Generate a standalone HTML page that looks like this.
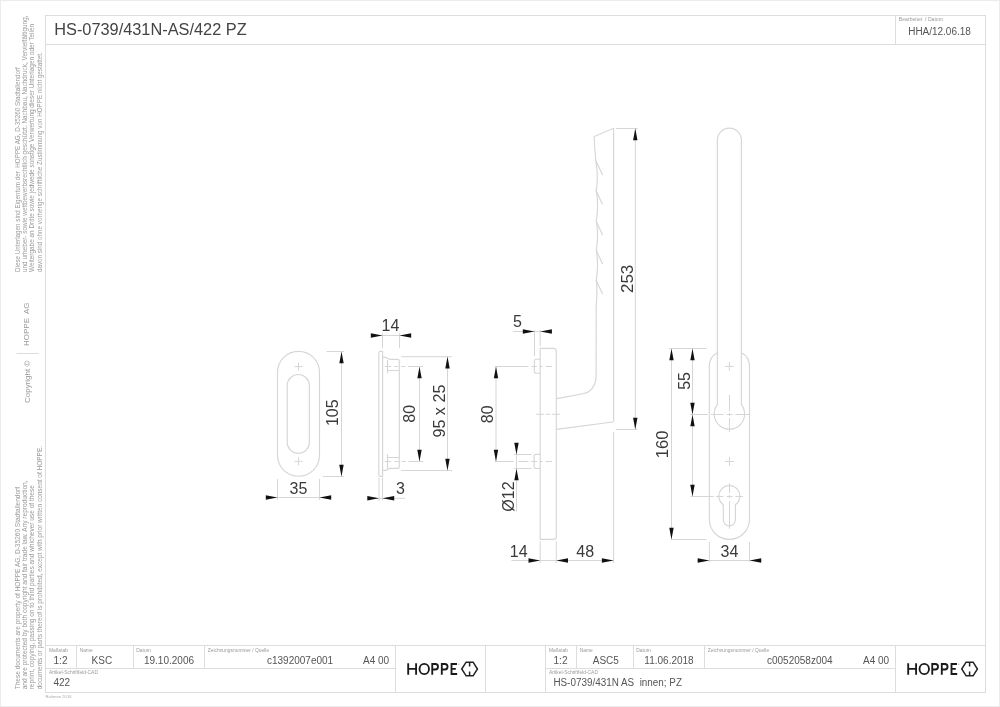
<!DOCTYPE html>
<html><head><meta charset="utf-8"><style>
html,body{margin:0;padding:0;background:#fff;width:1000px;height:707px;overflow:hidden}
svg{display:block;font-family:"Liberation Sans",sans-serif;will-change:transform}
</style></head><body>
<svg width="1000" height="707" viewBox="0 0 1000 707"><rect x="0.5" y="0.5" width="999" height="706" fill="none" stroke="#ececec"/>
<rect x="45.5" y="15.5" width="940" height="677" fill="none" stroke="#dddddd"/>
<line x1="45.5" y1="44.5" x2="985.5" y2="44.5" stroke="#dddddd" stroke-width="1"/>
<line x1="895.5" y1="15.5" x2="895.5" y2="44.5" stroke="#dddddd" stroke-width="1"/>
<text style="white-space:pre" x="54.2" y="34.7" font-size="16.3" text-anchor="start" fill="#444" font-weight="normal" font-family="Liberation Sans" textLength="192.5" lengthAdjust="spacingAndGlyphs">HS-0739/431N-AS/422 PZ</text>
<text style="white-space:pre" x="898.8" y="20.6" font-size="4.9" text-anchor="start" fill="#999" font-weight="normal" font-family="Liberation Sans" textLength="44.2" lengthAdjust="spacingAndGlyphs">Bearbeitet  / Datum</text>
<text style="white-space:pre" x="908.2" y="35.2" font-size="10.0" text-anchor="start" fill="#555" font-weight="normal" font-family="Liberation Sans" textLength="62.6" lengthAdjust="spacingAndGlyphs">HHA/12.06.18</text>
<line x1="45.5" y1="645.5" x2="985.5" y2="645.5" stroke="#dddddd" stroke-width="1"/>
<line x1="45.5" y1="668.5" x2="395.5" y2="668.5" stroke="#dddddd" stroke-width="1"/>
<line x1="545.5" y1="668.5" x2="895.5" y2="668.5" stroke="#dddddd" stroke-width="1"/>
<line x1="395.5" y1="645.5" x2="395.5" y2="692.5" stroke="#dddddd" stroke-width="1"/>
<line x1="485.5" y1="645.5" x2="485.5" y2="692.5" stroke="#dddddd" stroke-width="1"/>
<line x1="545.5" y1="645.5" x2="545.5" y2="692.5" stroke="#dddddd" stroke-width="1"/>
<line x1="895.5" y1="645.5" x2="895.5" y2="692.5" stroke="#dddddd" stroke-width="1"/>
<line x1="76.5" y1="645.5" x2="76.5" y2="668.5" stroke="#dddddd" stroke-width="1"/>
<line x1="133.5" y1="645.5" x2="133.5" y2="668.5" stroke="#dddddd" stroke-width="1"/>
<line x1="204.5" y1="645.5" x2="204.5" y2="668.5" stroke="#dddddd" stroke-width="1"/>
<line x1="576.5" y1="645.5" x2="576.5" y2="668.5" stroke="#dddddd" stroke-width="1"/>
<line x1="633.5" y1="645.5" x2="633.5" y2="668.5" stroke="#dddddd" stroke-width="1"/>
<line x1="704.5" y1="645.5" x2="704.5" y2="668.5" stroke="#dddddd" stroke-width="1"/>
<text style="white-space:pre" x="45.5" y="698.3" font-size="4.4" text-anchor="start" fill="#aaa" font-weight="normal" font-family="Liberation Sans" textLength="26" lengthAdjust="spacingAndGlyphs">Rahmen 2016</text>
<text style="white-space:pre" x="49" y="652.1" font-size="4.9" text-anchor="start" fill="#999" font-weight="normal" font-family="Liberation Sans">Maßstab</text>
<text style="white-space:pre" x="79.7" y="652.1" font-size="4.9" text-anchor="start" fill="#999" font-weight="normal" font-family="Liberation Sans">Name</text>
<text style="white-space:pre" x="136.3" y="652.1" font-size="4.9" text-anchor="start" fill="#999" font-weight="normal" font-family="Liberation Sans">Datum</text>
<text style="white-space:pre" x="207.7" y="652.1" font-size="4.9" text-anchor="start" fill="#999" font-weight="normal" font-family="Liberation Sans">Zeichnungsnummer / Quelle</text>
<text style="white-space:pre" x="49" y="674.1" font-size="4.9" text-anchor="start" fill="#999" font-weight="normal" font-family="Liberation Sans">Artikel-Schriftfeld-CAD</text>
<text style="white-space:pre" x="60.5" y="664.2" font-size="10" text-anchor="middle" fill="#555" font-weight="normal" font-family="Liberation Sans">1:2</text>
<text style="white-space:pre" x="101.9" y="664.2" font-size="10" text-anchor="middle" fill="#555" font-weight="normal" font-family="Liberation Sans">KSC</text>
<text style="white-space:pre" x="169" y="664.2" font-size="10" text-anchor="middle" fill="#555" font-weight="normal" font-family="Liberation Sans">19.10.2006</text>
<text style="white-space:pre" x="267" y="664.2" font-size="10" text-anchor="start" fill="#555" font-weight="normal" font-family="Liberation Sans">c1392007e001</text>
<text style="white-space:pre" x="363" y="664.2" font-size="10" text-anchor="start" fill="#555" font-weight="normal" font-family="Liberation Sans">A4 00</text>
<text style="white-space:pre" x="53.4" y="686.4" font-size="10" text-anchor="start" fill="#555" font-weight="normal" font-family="Liberation Sans">422</text>
<text style="white-space:pre" x="549" y="652.1" font-size="4.9" text-anchor="start" fill="#999" font-weight="normal" font-family="Liberation Sans">Maßstab</text>
<text style="white-space:pre" x="579.7" y="652.1" font-size="4.9" text-anchor="start" fill="#999" font-weight="normal" font-family="Liberation Sans">Name</text>
<text style="white-space:pre" x="636.3" y="652.1" font-size="4.9" text-anchor="start" fill="#999" font-weight="normal" font-family="Liberation Sans">Datum</text>
<text style="white-space:pre" x="707.7" y="652.1" font-size="4.9" text-anchor="start" fill="#999" font-weight="normal" font-family="Liberation Sans">Zeichnungsnummer / Quelle</text>
<text style="white-space:pre" x="549" y="674.1" font-size="4.9" text-anchor="start" fill="#999" font-weight="normal" font-family="Liberation Sans">Artikel-Schriftfeld-CAD</text>
<text style="white-space:pre" x="560.5" y="664.2" font-size="10" text-anchor="middle" fill="#555" font-weight="normal" font-family="Liberation Sans">1:2</text>
<text style="white-space:pre" x="605.8" y="664.2" font-size="10" text-anchor="middle" fill="#555" font-weight="normal" font-family="Liberation Sans">ASC5</text>
<text style="white-space:pre" x="669" y="664.2" font-size="10" text-anchor="middle" fill="#555" font-weight="normal" font-family="Liberation Sans">11.06.2018</text>
<text style="white-space:pre" x="767" y="664.2" font-size="10" text-anchor="start" fill="#555" font-weight="normal" font-family="Liberation Sans">c0052058z004</text>
<text style="white-space:pre" x="863" y="664.2" font-size="10" text-anchor="start" fill="#555" font-weight="normal" font-family="Liberation Sans">A4 00</text>
<text style="white-space:pre" x="553.4" y="686.4" font-size="10" text-anchor="start" fill="#555" font-weight="normal" font-family="Liberation Sans" textLength="128.6" lengthAdjust="spacingAndGlyphs">HS-0739/431N AS  innen; PZ</text>
<path d="M408.2,663.2 V674.8 M416.1,663.2 V674.8 M408.2,668.8 H416.1 M432.25,674.8 V664.0 H435.3 C437.5,664.0 438.0,665.3 438.0,666.75 C438.0,668.2 437.5,669.5 435.3,669.5 H432.25 M441.8,674.8 V664.0 H444.85 C447.05,664.0 447.55,665.3 447.55,666.75 C447.55,668.2 447.05,669.5 444.85,669.5 H441.8 M457.0,664.0 H451.5 V674.0 H457.2 M451.5,668.8 H455.8" stroke="#1a1a1a" stroke-width="1.85" fill="none"/>
<ellipse cx="424.25" cy="668.95" rx="4.75" ry="5.15" stroke="#1a1a1a" stroke-width="1.85" fill="none"/>
<circle cx="458.8" cy="664.2" r="0.8" fill="#bbb"/>
<path d="M461.75,669 L466.1,662.15 L473.1,662.15 L477.45,669 L473.1,675.85 L466.1,675.85 Z M469.6,662.15 V666.4 M469.6,671.4 V675.85" stroke="#222" stroke-width="1.5" fill="none"/>
<path d="M908.2,663.2 V674.8 M916.1,663.2 V674.8 M908.2,668.8 H916.1 M932.25,674.8 V664.0 H935.3 C937.5,664.0 938.0,665.3 938.0,666.75 C938.0,668.2 937.5,669.5 935.3,669.5 H932.25 M941.8,674.8 V664.0 H944.85 C947.05,664.0 947.55,665.3 947.55,666.75 C947.55,668.2 947.05,669.5 944.85,669.5 H941.8 M957.0,664.0 H951.5 V674.0 H957.2 M951.5,668.8 H955.8" stroke="#1a1a1a" stroke-width="1.85" fill="none"/>
<ellipse cx="924.25" cy="668.95" rx="4.75" ry="5.15" stroke="#1a1a1a" stroke-width="1.85" fill="none"/>
<circle cx="958.8" cy="664.2" r="0.8" fill="#bbb"/>
<path d="M961.75,669 L966.1,662.15 L973.1,662.15 L977.45,669 L973.1,675.85 L966.1,675.85 Z M969.6,662.15 V666.4 M969.6,671.4 V675.85" stroke="#222" stroke-width="1.5" fill="none"/>
<text style="white-space:pre" transform="translate(19.6,272) rotate(-90)" font-size="7.2" text-anchor="start" fill="#999" font-weight="normal" font-family="Liberation Sans" textLength="204.8" lengthAdjust="spacingAndGlyphs">Diese Unterlagen sind Eigentum der  HOPPE AG, D-35260 Stadtallendorf</text>
<text style="white-space:pre" transform="translate(26.900000000000002,272) rotate(-90)" font-size="7.2" text-anchor="start" fill="#999" font-weight="normal" font-family="Liberation Sans" textLength="256.5" lengthAdjust="spacingAndGlyphs">und urheber- sowie wettbewerbsrechtlich geschützt. Nachbau, Nachdruck, Vervielfältigung,</text>
<text style="white-space:pre" transform="translate(34.2,272) rotate(-90)" font-size="7.2" text-anchor="start" fill="#999" font-weight="normal" font-family="Liberation Sans" textLength="248.1" lengthAdjust="spacingAndGlyphs">Weitergabe an Dritte sowie jedwede sonstige Verwertung dieser Unterlagen oder Teilen</text>
<text style="white-space:pre" transform="translate(41.5,272) rotate(-90)" font-size="7.2" text-anchor="start" fill="#999" font-weight="normal" font-family="Liberation Sans" textLength="219.7" lengthAdjust="spacingAndGlyphs">davon sind ohne vorherige schriftliche Zustimmung von HOPPE nicht gestattet.</text>
<text style="white-space:pre" transform="translate(19.6,689.3) rotate(-90)" font-size="7.2" text-anchor="start" fill="#999" font-weight="normal" font-family="Liberation Sans" textLength="202.4" lengthAdjust="spacingAndGlyphs">These documents are property of HOPPE AG, D-35260 Stadtallendorf</text>
<text style="white-space:pre" transform="translate(26.900000000000002,689.3) rotate(-90)" font-size="7.2" text-anchor="start" fill="#999" font-weight="normal" font-family="Liberation Sans" textLength="208.8" lengthAdjust="spacingAndGlyphs">and are protected by both copyright and fair trade law. Any reproduction,</text>
<text style="white-space:pre" transform="translate(34.2,689.3) rotate(-90)" font-size="7.2" text-anchor="start" fill="#999" font-weight="normal" font-family="Liberation Sans" textLength="204.2" lengthAdjust="spacingAndGlyphs">reprint, copying, passing on to third parties and whichever use of these</text>
<text style="white-space:pre" transform="translate(41.5,689.3) rotate(-90)" font-size="7.2" text-anchor="start" fill="#999" font-weight="normal" font-family="Liberation Sans" textLength="243.3" lengthAdjust="spacingAndGlyphs">documents or parts thereof is prohibited, except with prior written consent of HOPPE.</text>
<text style="white-space:pre" transform="translate(29.4,346) rotate(-90)" font-size="8" text-anchor="start" fill="#999" font-weight="normal" font-family="Liberation Sans">HOPPE  AG</text>
<text style="white-space:pre" transform="translate(30,403) rotate(-90)" font-size="8" text-anchor="start" fill="#999" font-weight="normal" font-family="Liberation Sans">Copyright ©</text>
<line x1="16.5" y1="353.5" x2="38.5" y2="353.5" stroke="#ddd" stroke-width="1"/>
<path d="M277.5,372.3 A21,21 0 0 1 319.5,372.3 V455.2 A21,21 0 0 1 277.5,455.2 Z" stroke="#d6d6d6" stroke-width="1.15" fill="none"/>
<path d="M287.2,385.6 A11.1,11.1 0 0 1 309.4,385.6 V442.2 A11.1,11.1 0 0 1 287.2,442.2 Z" stroke="#d6d6d6" stroke-width="1.15" fill="none"/>
<line x1="294.5" y1="366.6" x2="302.5" y2="366.6" stroke="#d6d6d6" stroke-width="1"/>
<line x1="298.5" y1="362.6" x2="298.5" y2="370.6" stroke="#d6d6d6" stroke-width="1"/>
<line x1="294.5" y1="461.3" x2="302.5" y2="461.3" stroke="#d6d6d6" stroke-width="1"/>
<line x1="298.5" y1="457.3" x2="298.5" y2="465.3" stroke="#d6d6d6" stroke-width="1"/>
<line x1="326.7" y1="351.5" x2="343.8" y2="351.5" stroke="#d6d6d6" stroke-width="1"/>
<line x1="323" y1="476.5" x2="343.8" y2="476.5" stroke="#d6d6d6" stroke-width="1"/>
<line x1="341.5" y1="351.5" x2="341.5" y2="476.5" stroke="#d6d6d6" stroke-width="1"/>
<polygon points="341.50,351.50 339.30,363.20 343.70,363.20" fill="#111"/>
<polygon points="341.50,476.50 339.30,464.80 343.70,464.80" fill="#111"/>
<text style="white-space:pre" transform="translate(337.8,412.7) rotate(-90)" font-size="16" text-anchor="middle" fill="#3a3a3a" font-weight="normal" font-family="Liberation Sans">105</text>
<line x1="277.5" y1="479" x2="277.5" y2="500" stroke="#d6d6d6" stroke-width="1"/>
<line x1="319.5" y1="479" x2="319.5" y2="500" stroke="#d6d6d6" stroke-width="1"/>
<line x1="265.7" y1="497.5" x2="331.2" y2="497.5" stroke="#d6d6d6" stroke-width="1"/>
<polygon points="277.50,497.50 265.80,495.30 265.80,499.70" fill="#111"/>
<polygon points="319.50,497.50 331.20,495.30 331.20,499.70" fill="#111"/>
<text style="white-space:pre" x="298.5" y="493.5" font-size="16" text-anchor="middle" fill="#3a3a3a" font-weight="normal" font-family="Liberation Sans">35</text>
<path d="M380.4,476.3 Q378.8,476.3 378.8,474.7 V352.9 Q378.8,351.3 380.4,351.3 H382.6 V476.3 Z" stroke="#d6d6d6" stroke-width="1.15" fill="none"/>
<path d="M382.6,357.4 H385 C387.3,357.4 388,359.4 390.3,359.4 H397.7 Q399.3,359.4 399.3,361 V466.8 Q399.3,468.4 397.7,468.4 H390.3 C388,468.4 387.3,470.4 385,470.4 H382.6" stroke="#d6d6d6" stroke-width="1.15" fill="none"/>
<path d="M387.5,359.9 V373.2 M387.5,370.5 H399.3" stroke="#d6d6d6" stroke-width="1.15" fill="none"/>
<path d="M387.5,454.2 V468.4 M387.5,457.5 H399.3" stroke="#d6d6d6" stroke-width="1.15" fill="none"/>
<line x1="384.9" y1="366.5" x2="391" y2="366.5" stroke="#d6d6d6" stroke-width="1"/>
<line x1="394.3" y1="366.5" x2="397.9" y2="366.5" stroke="#d6d6d6" stroke-width="1"/>
<line x1="401.2" y1="366.5" x2="405" y2="366.5" stroke="#d6d6d6" stroke-width="1"/>
<line x1="408" y1="366.5" x2="423" y2="366.5" stroke="#d6d6d6" stroke-width="1"/>
<line x1="384.9" y1="461.5" x2="391.2" y2="461.5" stroke="#d6d6d6" stroke-width="1"/>
<line x1="394.3" y1="461.5" x2="398.7" y2="461.5" stroke="#d6d6d6" stroke-width="1"/>
<line x1="401.7" y1="461.5" x2="405.7" y2="461.5" stroke="#d6d6d6" stroke-width="1"/>
<line x1="408.5" y1="461.5" x2="423" y2="461.5" stroke="#d6d6d6" stroke-width="1"/>
<line x1="382.5" y1="333" x2="382.5" y2="348" stroke="#d6d6d6" stroke-width="1"/>
<line x1="399.5" y1="333" x2="399.5" y2="348" stroke="#d6d6d6" stroke-width="1"/>
<line x1="371.2" y1="335.5" x2="410.9" y2="335.5" stroke="#d6d6d6" stroke-width="1"/>
<polygon points="382.50,335.50 370.80,333.30 370.80,337.70" fill="#111"/>
<polygon points="399.50,335.50 411.20,333.30 411.20,337.70" fill="#111"/>
<text style="white-space:pre" x="390.5" y="331.2" font-size="16" text-anchor="middle" fill="#3a3a3a" font-weight="normal" font-family="Liberation Sans">14</text>
<line x1="419.5" y1="366.5" x2="419.5" y2="461.5" stroke="#d6d6d6" stroke-width="1"/>
<polygon points="419.50,366.50 417.30,378.20 421.70,378.20" fill="#111"/>
<polygon points="419.50,461.50 417.30,449.80 421.70,449.80" fill="#111"/>
<text style="white-space:pre" transform="translate(415.2,413.8) rotate(-90)" font-size="16" text-anchor="middle" fill="#3a3a3a" font-weight="normal" font-family="Liberation Sans">80</text>
<line x1="401.2" y1="356.7" x2="451.6" y2="356.7" stroke="#d6d6d6" stroke-width="1"/>
<line x1="401.2" y1="470.5" x2="452" y2="470.5" stroke="#d6d6d6" stroke-width="1"/>
<line x1="447.5" y1="356.7" x2="447.5" y2="470.5" stroke="#d6d6d6" stroke-width="1"/>
<polygon points="447.50,356.70 445.30,368.40 449.70,368.40" fill="#111"/>
<polygon points="447.50,470.50 445.30,458.80 449.70,458.80" fill="#111"/>
<text style="white-space:pre" transform="translate(444.5,411.1) rotate(-90)" font-size="16" text-anchor="middle" fill="#3a3a3a" font-weight="normal" font-family="Liberation Sans" textLength="53" lengthAdjust="spacingAndGlyphs">95 x 25</text>
<line x1="379" y1="477.7" x2="379" y2="500.6" stroke="#d6d6d6" stroke-width="1"/>
<line x1="382.5" y1="477.7" x2="382.5" y2="500.6" stroke="#d6d6d6" stroke-width="1"/>
<line x1="367" y1="498.3" x2="405" y2="498.3" stroke="#d6d6d6" stroke-width="1"/>
<polygon points="379.00,498.30 367.30,496.10 367.30,500.50" fill="#111"/>
<polygon points="382.50,498.30 394.20,496.10 394.20,500.50" fill="#111"/>
<text style="white-space:pre" x="400.5" y="494.2" font-size="16" text-anchor="middle" fill="#3a3a3a" font-weight="normal" font-family="Liberation Sans">3</text>
<path d="M613.6,421 V128.3 L594.1,136.5 Q594.8,150 595.8,161 Q598.5,175 596.3,190.6 Q598.8,205 596.3,221 Q598.8,235 596.3,250 Q598.8,265 596.3,280 Q597.6,292 596.2,305 L596.1,376 C596.1,386 590,392.4 584,393.5 L557,398.6" stroke="#d6d6d6" stroke-width="1.15" fill="none"/>
<path d="M596.0,161 L602.6,175" stroke="#d6d6d6" stroke-width="1.15" fill="none"/>
<path d="M596.0,190.6 L602.6,204.6" stroke="#d6d6d6" stroke-width="1.15" fill="none"/>
<path d="M596.0,221 L602.6,235" stroke="#d6d6d6" stroke-width="1.15" fill="none"/>
<path d="M596.0,250 L602.6,264" stroke="#d6d6d6" stroke-width="1.15" fill="none"/>
<path d="M596.0,280 L602.6,294" stroke="#d6d6d6" stroke-width="1.15" fill="none"/>
<path d="M613.6,421 L612.5,422 L556.5,429.4" stroke="#d6d6d6" stroke-width="1.15" fill="none"/>
<path d="M540.2,348.3 H553.3 Q556.3,348.3 556.3,351.3 V536.4 Q556.3,539.4 553.3,539.4 H540.2 Z" stroke="#d6d6d6" stroke-width="1.15" fill="none"/>
<path d="M540,359.2 H536.3 Q534.3,359.2 534.3,361.2 V371.2 Q534.3,373.2 536.3,373.2 H540" stroke="#d6d6d6" stroke-width="1.15" fill="none"/>
<path d="M540.2,454.3 H536.1 Q534.1,454.3 534.1,456.3 V466.5 Q534.1,468.5 536.1,468.5 H540.2" stroke="#d6d6d6" stroke-width="1.15" fill="none"/>
<line x1="531.2" y1="366.5" x2="536.8" y2="366.5" stroke="#d6d6d6" stroke-width="1"/>
<line x1="539.2" y1="366.5" x2="542.8" y2="366.5" stroke="#d6d6d6" stroke-width="1"/>
<line x1="545.6" y1="366.5" x2="552" y2="366.5" stroke="#d6d6d6" stroke-width="1"/>
<line x1="536" y1="414.3" x2="544" y2="414.3" stroke="#d6d6d6" stroke-width="1"/>
<line x1="545.6" y1="414.3" x2="550.4" y2="414.3" stroke="#d6d6d6" stroke-width="1"/>
<line x1="552" y1="414.3" x2="560" y2="414.3" stroke="#d6d6d6" stroke-width="1"/>
<line x1="518.4" y1="461.5" x2="528.4" y2="461.5" stroke="#d6d6d6" stroke-width="1"/>
<line x1="531.2" y1="461.5" x2="537.2" y2="461.5" stroke="#d6d6d6" stroke-width="1"/>
<line x1="539.6" y1="461.5" x2="542.8" y2="461.5" stroke="#d6d6d6" stroke-width="1"/>
<line x1="545.6" y1="461.5" x2="552" y2="461.5" stroke="#d6d6d6" stroke-width="1"/>
<line x1="534.5" y1="330" x2="534.5" y2="356" stroke="#d6d6d6" stroke-width="1"/>
<line x1="540.2" y1="330" x2="540.2" y2="346" stroke="#d6d6d6" stroke-width="1"/>
<line x1="512.9" y1="331.5" x2="552.1" y2="331.5" stroke="#d6d6d6" stroke-width="1"/>
<polygon points="534.50,331.50 522.80,329.30 522.80,333.70" fill="#111"/>
<polygon points="540.20,331.50 551.90,329.30 551.90,333.70" fill="#111"/>
<text style="white-space:pre" x="517.4" y="327.4" font-size="16" text-anchor="middle" fill="#3a3a3a" font-weight="normal" font-family="Liberation Sans">5</text>
<line x1="494.8" y1="366.5" x2="528.4" y2="366.5" stroke="#d6d6d6" stroke-width="1"/>
<line x1="494.8" y1="461.5" x2="513.6" y2="461.5" stroke="#d6d6d6" stroke-width="1"/>
<line x1="496" y1="366.5" x2="496" y2="461.5" stroke="#d6d6d6" stroke-width="1"/>
<polygon points="496.00,366.50 493.80,378.20 498.20,378.20" fill="#111"/>
<polygon points="496.00,461.50 493.80,449.80 498.20,449.80" fill="#111"/>
<text style="white-space:pre" transform="translate(492.7,414.3) rotate(-90)" font-size="16" text-anchor="middle" fill="#3a3a3a" font-weight="normal" font-family="Liberation Sans">80</text>
<line x1="514" y1="454.5" x2="531.6" y2="454.5" stroke="#d6d6d6" stroke-width="1"/>
<line x1="514" y1="468.5" x2="531.6" y2="468.5" stroke="#d6d6d6" stroke-width="1"/>
<line x1="516.5" y1="443" x2="516.5" y2="511.6" stroke="#d6d6d6" stroke-width="1"/>
<polygon points="516.50,454.50 514.30,442.80 518.70,442.80" fill="#111"/>
<polygon points="516.50,468.50 514.30,480.20 518.70,480.20" fill="#111"/>
<text style="white-space:pre" transform="translate(514,496.5) rotate(-90)" font-size="16" text-anchor="middle" fill="#3a3a3a" font-weight="normal" font-family="Liberation Sans">Ø12</text>
<line x1="616.2" y1="128.5" x2="637.7" y2="128.5" stroke="#d6d6d6" stroke-width="1"/>
<line x1="615.8" y1="429.5" x2="637.5" y2="429.5" stroke="#d6d6d6" stroke-width="1"/>
<line x1="635.3" y1="128.5" x2="635.3" y2="429.5" stroke="#d6d6d6" stroke-width="1"/>
<polygon points="635.30,128.50 633.10,140.20 637.50,140.20" fill="#111"/>
<polygon points="635.30,429.50 633.10,417.80 637.50,417.80" fill="#111"/>
<text style="white-space:pre" transform="translate(633,278.9) rotate(-90)" font-size="16" text-anchor="middle" fill="#3a3a3a" font-weight="normal" font-family="Liberation Sans" textLength="28.3" lengthAdjust="spacingAndGlyphs">253</text>
<line x1="540.2" y1="541.4" x2="540.2" y2="563" stroke="#d6d6d6" stroke-width="1"/>
<line x1="556.3" y1="541.4" x2="556.3" y2="563" stroke="#d6d6d6" stroke-width="1"/>
<line x1="613.6" y1="431.8" x2="613.6" y2="563" stroke="#d6d6d6" stroke-width="1"/>
<line x1="511.4" y1="560.5" x2="613.6" y2="560.5" stroke="#d6d6d6" stroke-width="1"/>
<polygon points="540.20,560.50 528.50,558.30 528.50,562.70" fill="#111"/>
<polygon points="556.30,560.50 568.00,558.30 568.00,562.70" fill="#111"/>
<polygon points="613.60,560.50 601.90,558.30 601.90,562.70" fill="#111"/>
<text style="white-space:pre" x="518.7" y="556.7" font-size="16" text-anchor="middle" fill="#3a3a3a" font-weight="normal" font-family="Liberation Sans">14</text>
<text style="white-space:pre" x="585.2" y="556.7" font-size="16" text-anchor="middle" fill="#3a3a3a" font-weight="normal" font-family="Liberation Sans">48</text>
<path d="M717.4,404.7 V140.1 A12,12 0 0 1 741.4,140.1 V404.7" stroke="#d6d6d6" stroke-width="1.15" fill="none"/>
<path d="M709.3,519.3 V366 C709.3,359.5 712.6,355.2 717.4,352.7 M741.4,352.7 C746.2,355.2 749.5,359.5 749.5,366 V519.3 A20.1,20.1 0 0 1 709.3,519.3" stroke="#d6d6d6" stroke-width="1.15" fill="none"/>
<path d="M717.4,404.7 A15.2,15.2 0 1 0 741.4,404.7" stroke="#d6d6d6" stroke-width="1.15" fill="none"/>
<line x1="724.9" y1="366.4" x2="733.9" y2="366.4" stroke="#d6d6d6" stroke-width="1"/>
<line x1="729.4" y1="361.9" x2="729.4" y2="370.9" stroke="#d6d6d6" stroke-width="1"/>
<line x1="725.0" y1="461.5" x2="734.0" y2="461.5" stroke="#d6d6d6" stroke-width="1"/>
<line x1="729.5" y1="457.0" x2="729.5" y2="466.0" stroke="#d6d6d6" stroke-width="1"/>
<line x1="689.9" y1="414.5" x2="707.8" y2="414.5" stroke="#d6d6d6" stroke-width="1"/>
<line x1="710.9" y1="414.5" x2="723.5" y2="414.5" stroke="#d6d6d6" stroke-width="1"/>
<line x1="726.7" y1="414.5" x2="732.6" y2="414.5" stroke="#d6d6d6" stroke-width="1"/>
<line x1="735.4" y1="414.5" x2="749.4" y2="414.5" stroke="#d6d6d6" stroke-width="1"/>
<line x1="729.5" y1="395" x2="729.5" y2="411" stroke="#d6d6d6" stroke-width="1"/>
<line x1="729.5" y1="413" x2="729.5" y2="416" stroke="#d6d6d6" stroke-width="1"/>
<line x1="729.5" y1="418" x2="729.5" y2="432" stroke="#d6d6d6" stroke-width="1"/>
<path d="M723.3,504.7 A10.5,10.5 0 1 1 735.4,504.7 V519.85 A6.05,6.05 0 0 1 723.3,519.85 Z" stroke="#d6d6d6" stroke-width="1.15" fill="none"/>
<line x1="729.5" y1="483.2" x2="729.5" y2="492.9" stroke="#d6d6d6" stroke-width="1"/>
<line x1="729.5" y1="495" x2="729.5" y2="498.3" stroke="#d6d6d6" stroke-width="1"/>
<line x1="729.5" y1="501.2" x2="729.5" y2="528.8" stroke="#d6d6d6" stroke-width="1"/>
<line x1="690.6" y1="496.5" x2="713.6" y2="496.5" stroke="#d6d6d6" stroke-width="1"/>
<line x1="716" y1="496.5" x2="723.3" y2="496.5" stroke="#d6d6d6" stroke-width="1"/>
<line x1="726.5" y1="496.5" x2="732.6" y2="496.5" stroke="#d6d6d6" stroke-width="1"/>
<line x1="735.4" y1="496.5" x2="743.1" y2="496.5" stroke="#d6d6d6" stroke-width="1"/>
<line x1="668.8" y1="348.5" x2="706.4" y2="348.5" stroke="#d6d6d6" stroke-width="1"/>
<line x1="670.8" y1="539.5" x2="706.4" y2="539.5" stroke="#d6d6d6" stroke-width="1"/>
<line x1="671.5" y1="348.5" x2="671.5" y2="539.5" stroke="#d6d6d6" stroke-width="1"/>
<polygon points="671.50,348.50 669.30,360.20 673.70,360.20" fill="#111"/>
<polygon points="671.50,539.50 669.30,527.80 673.70,527.80" fill="#111"/>
<text style="white-space:pre" transform="translate(668.3,444.4) rotate(-90)" font-size="16" text-anchor="middle" fill="#3a3a3a" font-weight="normal" font-family="Liberation Sans" textLength="27.8" lengthAdjust="spacingAndGlyphs">160</text>
<line x1="692.5" y1="348.5" x2="692.5" y2="496.5" stroke="#d6d6d6" stroke-width="1"/>
<polygon points="692.50,348.50 690.30,360.20 694.70,360.20" fill="#111"/>
<polygon points="692.50,414.50 690.30,402.80 694.70,402.80" fill="#111"/>
<polygon points="692.50,414.50 690.30,426.20 694.70,426.20" fill="#111"/>
<polygon points="692.50,496.50 690.30,484.80 694.70,484.80" fill="#111"/>
<text style="white-space:pre" transform="translate(689.6,380.9) rotate(-90)" font-size="16" text-anchor="middle" fill="#3a3a3a" font-weight="normal" font-family="Liberation Sans">55</text>
<line x1="709.4" y1="542" x2="709.4" y2="562" stroke="#d6d6d6" stroke-width="1"/>
<line x1="749.5" y1="542" x2="749.5" y2="562" stroke="#d6d6d6" stroke-width="1"/>
<line x1="697" y1="560.5" x2="762" y2="560.5" stroke="#d6d6d6" stroke-width="1"/>
<polygon points="709.40,560.50 697.70,558.30 697.70,562.70" fill="#111"/>
<polygon points="749.50,560.50 761.20,558.30 761.20,562.70" fill="#111"/>
<text style="white-space:pre" x="729.5" y="556.8" font-size="16" text-anchor="middle" fill="#3a3a3a" font-weight="normal" font-family="Liberation Sans">34</text></svg>
</body></html>
